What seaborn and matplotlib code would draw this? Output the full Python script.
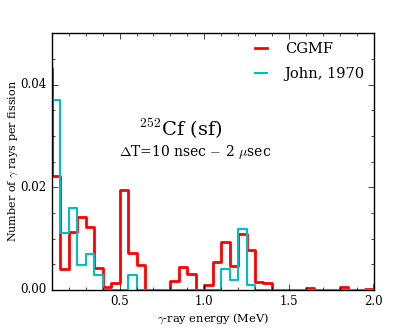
import numpy as np
import pandas as pd
import seaborn as sns
import matplotlib
matplotlib.use("Agg")
import matplotlib.pyplot as plt
from matplotlib.ticker import MultipleLocator, FormatStrFormatter

# lower edges of the 0.05 MeV energy bins
bin_width = 0.05
bin_lo = np.round(np.arange(0.05, 2.05, bin_width), 2)

# CGMF spectrum (gamma rays per fission per bin)
cgmf = [0.0433, 0.0221, 0.0040, 0.0112, 0.0142, 0.0122, 0.0043, 0.0006, 0.0013, 0.0195,
        0.0071, 0.0049, 0.0, 0.0, 0.0, 0.0018, 0.0045, 0.0031, 0.0, 0.0009,
        0.0055, 0.0093, 0.0047, 0.0109, 0.0077, 0.0016, 0.0013, 0.0, 0.0, 0.0,
        0.0, 0.0003, 0.0, 0.0, 0.0, 0.0005, 0.0, 0.0, 0.0002, 0.0012]

# John, 1970 data
john = [0.065, 0.0369, 0.0110, 0.0159, 0.0049, 0.0069, 0.0029, 0.0, 0.0, 0.0,
        0.0029, 0.0, 0.0, 0.0, 0.0, 0.0, 0.0, 0.0, 0.0, 0.0,
        0.0, 0.0040, 0.0019, 0.0119, 0.0009, 0.0, 0.0, 0.0, 0.0, 0.0,
        0.0, 0.0, 0.0, 0.0, 0.0, 0.0, 0.0, 0.0, 0.0, 0.0]

df = pd.DataFrame({"energy": bin_lo + bin_width / 2, "cgmf": cgmf, "john": john})
edges = list(np.round(np.append(bin_lo, bin_lo[-1] + bin_width), 3))

plt.style.use("classic")
plt.rcParams["font.family"] = "DejaVu Serif"
plt.rcParams["mathtext.fontset"] = "cm"

fig, ax = plt.subplots(figsize=(4.15, 3.32), dpi=100)
fig.subplots_adjust(left=0.125, right=0.9, top=0.9, bottom=0.127)

sns.histplot(data=df, x="energy", weights="cgmf", bins=edges, element="step",
             fill=False, color="red", lw=2, label="CGMF", ax=ax)
sns.histplot(data=df, x="energy", weights="john", bins=edges, element="step",
             fill=False, color="c", lw=1.5, label="John, 1970", ax=ax)

ax.set_xlim(0.1, 2.0)
ax.set_ylim(0, 0.05)
ax.xaxis.set_major_locator(MultipleLocator(0.5))
ax.xaxis.set_minor_locator(MultipleLocator(0.1))
ax.yaxis.set_major_locator(MultipleLocator(0.02))
ax.yaxis.set_minor_locator(MultipleLocator(0.005))
ax.yaxis.set_major_formatter(FormatStrFormatter("%.2f"))
ax.tick_params(labelsize=8.5)

ax.set_xlabel(r"$\gamma$-ray energy (MeV)", fontsize=8.2, labelpad=2)
ax.set_ylabel(r"Number of $\gamma$ rays per fission", fontsize=8, labelpad=0)

ax.text(0.40, 0.627, r"$^{252}$Cf (sf)", transform=ax.transAxes, fontsize=14,
        ha="center", va="center")
ax.text(0.445, 0.537, r"$\Delta$T=10 nsec $-$ 2 $\mu$sec", transform=ax.transAxes,
        fontsize=10, ha="center", va="center")

ax.legend(loc="upper right", frameon=False, fontsize=10.5, handlelength=1.4,
          handletextpad=0.9, labelspacing=0.75, borderaxespad=0.2)

fig.savefig("out.png", dpi=100)
